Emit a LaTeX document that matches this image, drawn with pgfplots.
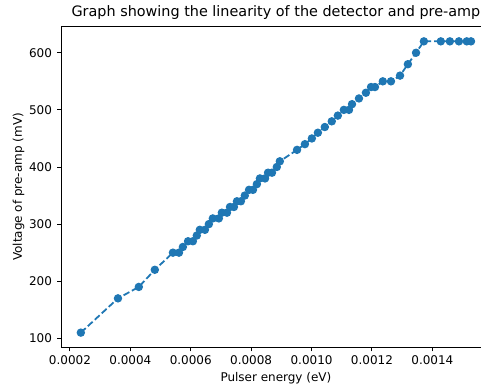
\documentclass[border=0pt]{standalone}
\usepackage{fontspec}
\setmainfont{DejaVu Sans}
\usepackage{pgfplots}
\pgfplotsset{compat=1.18}
\definecolor{tabblue}{HTML}{1F77B4}

\begin{document}
\begin{tikzpicture}
\begin{pgfinterruptboundingbox}
\begin{axis}[
  at={(0,0)}, anchor=south west,
  scale only axis, width=309.2pt, height=230.7pt,
  xmin=0.000171, xmax=0.001593, ymin=84.5, ymax=645.5,
  font=\fontsize{8.63}{10}\selectfont,
  /pgf/number format/assume math mode=true,
  axis x line*=bottom, axis y line*=left,
  axis line style={line width=0.69pt, black, -},
  every tick/.style={line width=0.69pt, black},
  tick align=outside,
  major tick length=3pt,
  xtick={0.0002,0.0004,0.0006,0.0008,0.0010,0.0012,0.0014},
  xticklabels={0.0002,0.0004,0.0006,0.0008,0.0010,0.0012,0.0014},
  scaled x ticks=false,
  ytick={100,200,300,400,500,600},
  xticklabel style={anchor=north, inner sep=0pt, yshift=-2.6pt},
  yticklabel style={anchor=east, inner sep=0pt, xshift=-3.5pt},
  xlabel={Pulser energy (eV)},
  ylabel={Voltage of pre-amp (mV)},
  xlabel style={at={(axis description cs:0.5,-0.1075)}, anchor=base, inner sep=0pt},
  ylabel style={at={(axis description cs:-0.0915,0.5)}, anchor=base, inner sep=0pt, rotate=0},
  title={Graph showing the linearity of the detector and pre-amp},
  title style={at={(axis description cs:0.5,1.033)}, anchor=base, inner sep=0pt, yshift=-6pt,
    font=\fontsize{10.36}{12}\selectfont},
  clip=false,
]
% top frame line; the right-hand frame lies beyond the visible area
\draw[line width=0.69pt, black] (rel axis cs:0,1) -- (rel axis cs:1,1);
\addplot[color=tabblue, line width=1.29pt, dash pattern=on 4.77pt off 2.06pt,
  mark=*, mark size=2.58pt, mark options={solid, fill=tabblue, draw=tabblue, line width=0.86pt}]
coordinates {
(0.000236,110) (0.000359,170) (0.000428,190) (0.000481,220) (0.000541,250)
(0.000561,250) (0.000574,260) (0.000591,270) (0.000607,270) (0.000620,280)
(0.000630,290) (0.000647,290) (0.000660,300) (0.000673,310) (0.000693,310)
(0.000703,320) (0.000720,320) (0.000730,330) (0.000743,330) (0.000753,340)
(0.000766,340) (0.000779,350) (0.000793,360) (0.000806,360) (0.000819,370)
(0.000829,380) (0.000846,380) (0.000856,390) (0.000869,390) (0.000885,400)
(0.000895,410) (0.000952,430) (0.000978,440) (0.001001,450) (0.001021,460)
(0.001044,470) (0.001067,480) (0.001087,490) (0.001107,500) (0.001124,500)
(0.001134,510) (0.001157,520) (0.001180,530) (0.001197,540) (0.001210,540)
(0.001236,550) (0.001263,550) (0.001293,560) (0.001319,580) (0.001346,600)
(0.001372,620) (0.001428,620) (0.001458,620) (0.001488,620) (0.001514,620)
(0.001528,620)
};
\end{axis}
\end{pgfinterruptboundingbox}
\useasboundingbox (-44.06pt,-28.66pt) rectangle (302.26pt,249.98pt);
\end{tikzpicture}
\end{document}
